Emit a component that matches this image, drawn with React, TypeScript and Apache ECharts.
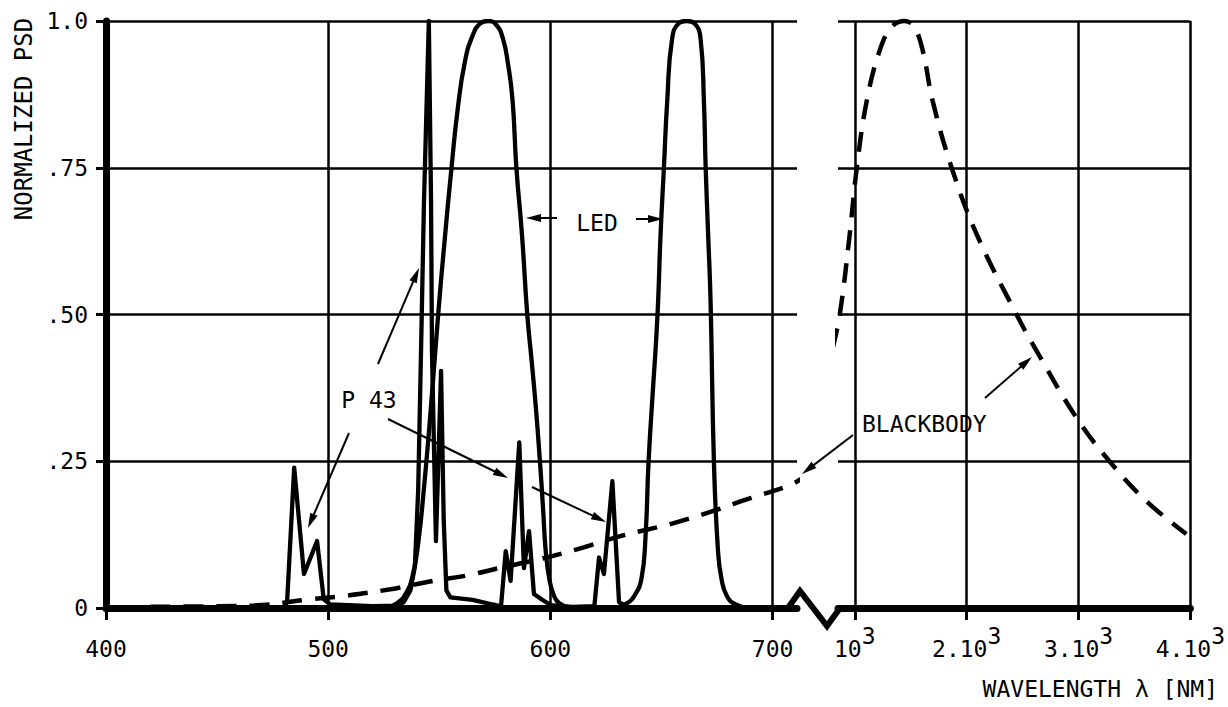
import React, { useEffect, useRef } from 'react';
import * as echarts from 'echarts';

const FONT = '"DejaVu Sans Mono", "Liberation Mono", monospace';
const INK = '#000';

// ---- axis ticks & labels ----
const yTickValues = [0, 0.25, 0.5, 0.75, 1];
const yTickLabels = ['0', '.25', '.50', '.75', '1.0'];
const xTicksVisible = [400, 500, 600, 700];
const xTicksIR = [1000, 2000, 3000, 4000];
const xTicksIRMantissa = ['10', '2.10', '3.10', '4.10'];
const xTicksIRExponent = '3';

// ---- series data: [wavelength nm, normalized PSD] ----
const led1 = [
  [526, 0], [531, 0.008], [535, 0.025], [538, 0.055], [540.5, 0.11], [543, 0.2], [546, 0.33],
  [549.5, 0.5], [552.5, 0.63], [555.5, 0.75], [558.3, 0.85], [561.5, 0.93], [565, 0.975],
  [568.5, 0.996], [572, 1], [575.5, 0.994], [578.5, 0.972], [581, 0.925], [583, 0.864],
  [584.7, 0.75], [587.2, 0.637], [589.6, 0.5], [591.6, 0.42], [593.5, 0.34], [595.3, 0.25],
  [596.7, 0.17], [597.9, 0.097], [599.5, 0.05], [601.5, 0.022], [604, 0.008], [609, 0],
];

const led2 = [
  [628, 0], [634, 0.007], [638, 0.022], [641, 0.05], [642.8, 0.12], [644.2, 0.25], [646.3, 0.38],
  [647.5, 0.45], [648.5, 0.523], [649.6, 0.637], [651.1, 0.75], [652.6, 0.864], [654.8, 0.97],
  [657.8, 0.996], [661.3, 1], [664.8, 0.996], [667.6, 0.97], [669.1, 0.864], [669.9, 0.75],
  [671, 0.637], [672.1, 0.523], [673.6, 0.25], [675.4, 0.1], [677, 0.05], [679.5, 0.02],
  [683.4, 0.006], [689, 0],
];

const p43 = [
  [400, 0], [480, 0], [481.5, 0.01], [484.7, 0.239], [489.1, 0.058], [495, 0.114], [498, 0.015],
  [501, 0.006], [520, 0.003], [530, 0.004], [534, 0.01], [537, 0.03], [539, 0.07], [540.5, 0.2],
  [541.8, 0.44], [543.1, 0.69], [545.3, 1], [546.3, 0.69], [546.7, 0.44], [548.5, 0.114],
  [550.8, 0.404], [552, 0.15], [553.2, 0.03], [555, 0.018], [565, 0.014], [574, 0.006],
  [577.8, 0.003], [579.9, 0.097], [582.1, 0.046], [586, 0.282], [588.1, 0.068], [590.4, 0.131],
  [592.6, 0.024], [596, 0.015], [600, 0.005], [610, 0.002], [619.8, 0.003], [621.9, 0.086],
  [624.1, 0.058], [627.9, 0.216], [630.9, 0.01], [635, 0.002], [711, 0],
];

const blackbodyVisible = [
  [420, 0.002], [450, 0.003], [470, 0.005], [490, 0.014], [508, 0.021], [528, 0.032], [547, 0.046],
  [562, 0.055], [577, 0.068], [595, 0.083], [612, 0.1], [632, 0.123], [654, 0.143], [673, 0.165],
  [690, 0.187], [707, 0.208], [713, 0.22],
];

const blackbodyIR = [
  [803, 0.443], [866, 0.5], [955, 0.637], [1018, 0.75], [1107, 0.864], [1223, 0.95], [1330, 0.99],
  [1446, 1], [1530, 0.99], [1607, 0.95], [1696, 0.864], [1866, 0.75], [2089, 0.637], [2446, 0.5],
  [2625, 0.438], [2982, 0.324], [3277, 0.25], [3607, 0.182], [3964, 0.126],
];

function arrow(x1: number, y1: number, x2: number, y2: number, head = 15, half = 4) {
  const dx = x2 - x1;
  const dy = y2 - y1;
  const L = Math.hypot(dx, dy);
  const ux = dx / L;
  const uy = dy / L;
  const bx = x2 - ux * head;
  const by = y2 - uy * head;
  const px = -uy;
  const py = ux;
  return [
    { type: 'line', silent: true, shape: { x1, y1, x2: bx + ux * 2, y2: by + uy * 2 }, style: { stroke: INK, lineWidth: 2 } },
    {
      type: 'polygon', silent: true,
      shape: { points: [[x2, y2], [bx + px * half, by + py * half], [bx - px * half, by - py * half]] },
      style: { fill: INK },
    },
  ];
}

function label(text: string, x: number, y: number, align = 'center', rotation = 0, size = 23) {
  return {
    type: 'text', silent: true, x, y, rotation,
    style: { text, font: `${size}px ${FONT}`, fill: INK, align, verticalAlign: 'middle' },
  };
}

const gridLineStyle = { color: INK, width: 2.5, type: 'solid' as const };

function buildOption() {
  const vLines = (vals: number[]) => ({
    silent: true,
    symbol: ['none', 'none'],
    label: { show: false },
    lineStyle: gridLineStyle,
    emphasis: { disabled: true },
    data: vals.map((v) => ({ xAxis: v })),
  });

  const solid = { color: INK, width: 4.3, join: 'round' };
  const dashed = { color: INK, width: 4.5, type: [20, 13] as number[] };

  return {
    animation: false,
    backgroundColor: '#fff',
    grid: [
      { left: 106, top: 21, width: 691, height: 587 },
      { left: 838, top: 21, width: 353, height: 587 },
    ],
    xAxis: [
      {
        gridIndex: 0, type: 'value', min: 400, max: 711,
        axisLine: { show: true, lineStyle: { color: INK, width: 7 } },
        axisTick: { show: true, customValues: xTicksVisible, length: 12, lineStyle: { color: INK, width: 3 } },
        axisLabel: { customValues: xTicksVisible, margin: 29, color: INK, fontFamily: FONT, fontSize: 23 },
        splitLine: { show: false },
      },
      {
        gridIndex: 1, type: 'value', min: 850, max: 4000,
        axisLine: { show: true, lineStyle: { color: INK, width: 7 } },
        axisTick: { show: true, customValues: xTicksIR, length: 12, lineStyle: { color: INK, width: 3 } },
        axisLabel: {
          customValues: xTicksIR, margin: 16, color: INK,
          formatter: (v: number) => {
            const i = xTicksIR.indexOf(v);
            return `{m|${xTicksIRMantissa[i]}}{e|${xTicksIRExponent}}`;
          },
          rich: {
            m: { fontFamily: FONT, fontSize: 23, color: INK },
            e: { fontFamily: FONT, fontSize: 23, color: INK, padding: [0, 0, 26, 0] },
          },
        },
        splitLine: { show: false },
      },
    ],
    yAxis: [
      {
        gridIndex: 0, type: 'value', min: 0, max: 1, interval: 0.25,
        axisLine: { show: true, lineStyle: { color: INK, width: 7 } },
        axisTick: { show: true, length: 10, lineStyle: { color: INK, width: 3 } },
        axisLabel: {
          margin: 18, color: INK, fontFamily: FONT, fontSize: 23,
          formatter: (v: number) => yTickLabels[yTickValues.indexOf(v)] ?? '',
        },
        splitLine: { show: true, lineStyle: gridLineStyle },
      },
      {
        gridIndex: 1, type: 'value', min: 0, max: 1, interval: 0.25,
        axisLine: { show: false }, axisTick: { show: false }, axisLabel: { show: false },
        splitLine: { show: true, lineStyle: gridLineStyle },
      },
    ],
    series: [
      {
        name: 'LED (green)', type: 'line', xAxisIndex: 0, yAxisIndex: 0, data: led1,
        showSymbol: false, smooth: 0.5, lineStyle: solid, z: 3,
        markLine: vLines(xTicksVisible),
      },
      {
        name: 'LED (red)', type: 'line', xAxisIndex: 0, yAxisIndex: 0, data: led2,
        showSymbol: false, smooth: 0.5, lineStyle: solid, z: 3,
      },
      {
        name: 'P 43', type: 'line', xAxisIndex: 0, yAxisIndex: 0, data: p43,
        showSymbol: false, smooth: false, lineStyle: solid, z: 3,
      },
      {
        name: 'Blackbody', type: 'line', xAxisIndex: 0, yAxisIndex: 0, data: blackbodyVisible,
        showSymbol: false, smooth: 0.4, clip: false, lineStyle: dashed, z: 3,
      },
      {
        name: 'Blackbody IR', type: 'line', xAxisIndex: 1, yAxisIndex: 1, data: blackbodyIR,
        showSymbol: false, smooth: 0.4, clip: false, lineStyle: dashed, z: 3,
        markLine: vLines(xTicksIR),
      },
    ],
    graphic: [
      {
        type: 'polyline', silent: true,
        shape: { points: [[788, 608], [800, 591], [827, 626], [840, 608]] },
        style: { stroke: INK, lineWidth: 6, fill: 'none', lineJoin: 'miter' },
      },
      ...arrow(557, 218, 526, 218),
      ...arrow(636, 219, 663, 219),
      ...arrow(349, 433, 308, 528),
      ...arrow(378, 364, 419, 268),
      ...arrow(388, 419, 508, 478),
      ...arrow(532, 487, 606, 522),
      ...arrow(853, 435, 802, 474),
      ...arrow(985, 398, 1032, 357),
      label('LED', 597, 223),
      label('P 43', 369, 400),
      label('BLACKBODY', 862, 424, 'left'),
      label('WAVELENGTH λ [NM]', 1218, 689, 'right'),
      label('NORMALIZED PSD', 24, 119, 'center', Math.PI / 2, 24),
    ],
  };
}

export default function App() {
  const ref = useRef<HTMLDivElement>(null);
  useEffect(() => {
    if (!ref.current) return;
    const chart = echarts.init(ref.current, undefined, { renderer: 'svg' });
    chart.setOption(buildOption() as any);
    return () => chart.dispose();
  }, []);
  return (
    <div
      ref={ref}
      style={{ position: 'absolute', left: 0, top: 0, width: 1228, height: 707, background: '#fff' }}
    />
  );
}
